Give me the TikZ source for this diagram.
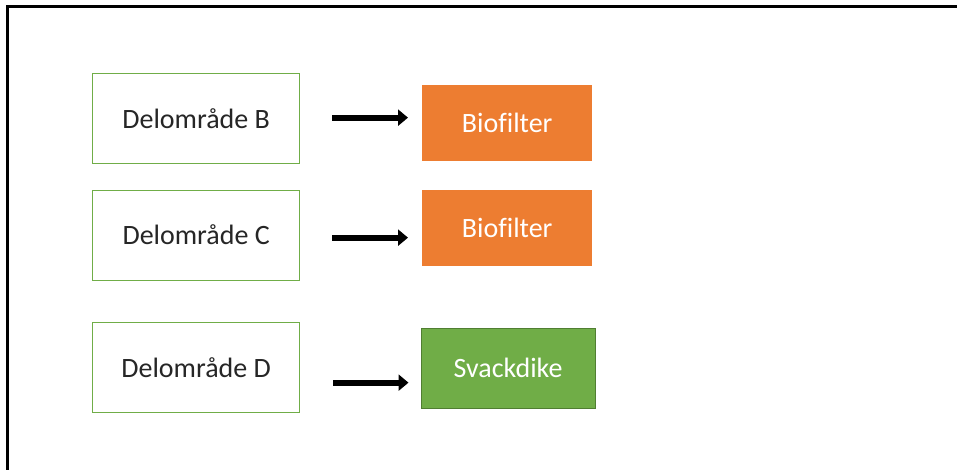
\documentclass[tikz,border=0pt]{standalone}
\usepackage{fontspec}
\setmainfont{Carlito}[Ligatures=NoCommon]
\usetikzlibrary{arrows.meta}
\definecolor{zonegreen}{HTML}{70AD47}
\definecolor{darkgreen}{HTML}{507E32}
\definecolor{filterorange}{HTML}{ED7D31}
\tikzset{
  zone/.style={draw=zonegreen, line width=1.3pt, fill=white, anchor=north west,
    minimum width=207pt, minimum height=90pt, inner sep=0pt,
    font=\fontsize{28}{33}\selectfont, text=black!85},
  measure/.style={anchor=north west, inner sep=0pt, text=white,
    font=\fontsize{28}{33}\selectfont},
  flow/.style={line width=6pt, -{Triangle[length=10pt,width=16pt]}}
}
\begin{document}
\begin{tikzpicture}[x=1pt,y=-1pt]
  \useasboundingbox (0,0) rectangle (957,469);
  % outer frame (top and left edges)
  \draw[line width=3pt, line cap=rect] (7.5,469) -- (7.5,6.5) -- (957,6.5);

  % sub-areas
  \node[zone] (b) at (92,73)  {Delområde B};
  \node[zone] (c) at (92,189.5) {Delområde C};
  \node[zone] (d) at (92,322) {Delområde D};

  % treatment measures
  \node[measure, fill=filterorange, minimum width=170pt, minimum height=76pt] (fb) at (422,85) {Biofilter};
  \node[measure, fill=filterorange, minimum width=170pt, minimum height=76pt] (fc) at (422,190) {Biofilter};
  \node[measure, fill=zonegreen, draw=darkgreen, line width=1pt, minimum width=174pt, minimum height=80pt] (sd) at (420.5,327.5) {Svackdike};

  % arrow end points
  \coordinate (bs) at ([xshift=32pt,yshift=1pt]b.east);
  \coordinate (be) at ([xshift=-14pt]fb.west |- bs);
  \coordinate (cs) at ([xshift=32pt,yshift=-2.5pt]c.east);
  \coordinate (ce) at ([xshift=-14pt]fc.west |- cs);
  \coordinate (ds) at ([xshift=33pt,yshift=-15pt]d.east);
  \coordinate (de) at ([xshift=-12pt]sd.west |- ds);

  \draw[flow] (bs) -- (be);
  \draw[flow] (cs) -- (ce);
  \draw[flow] (ds) -- (de);
\end{tikzpicture}
\end{document}
